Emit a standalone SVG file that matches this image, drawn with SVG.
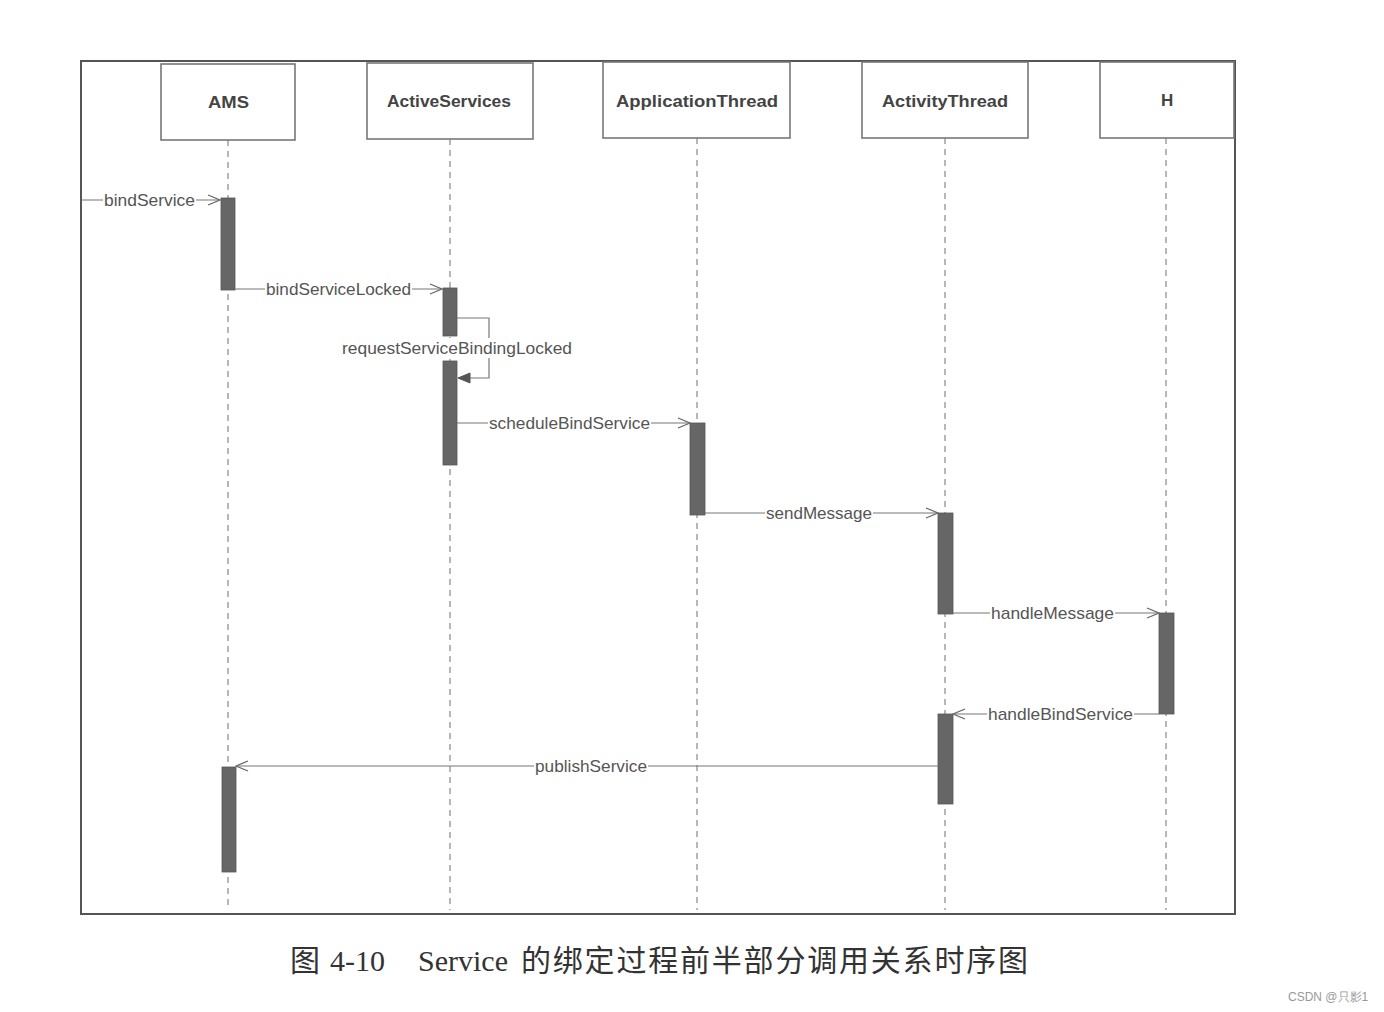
<svg xmlns="http://www.w3.org/2000/svg" width="1384" height="1012" viewBox="0 0 1384 1012">
<defs>
<marker id="open" markerWidth="14" markerHeight="12" refX="13" refY="6" orient="auto" markerUnits="userSpaceOnUse">
<path d="M1,1 L13,6 L1,11" fill="none" stroke="#666" stroke-width="1.3"/>
</marker>
<marker id="filled" markerWidth="14" markerHeight="12" refX="13" refY="6" orient="auto" markerUnits="userSpaceOnUse">
<path d="M1,1 L13,6 L1,11 Z" fill="#555" stroke="#555"/>
</marker>
</defs>
<style>
.frame{fill:none;stroke:#555;stroke-width:2}
.box{fill:#fff;stroke:#777;stroke-width:1.6}
.hdr{font-family:"Liberation Sans",Arial,sans-serif;font-weight:bold;font-size:17px;fill:#444}
.life{stroke:#888;stroke-width:1.2;stroke-dasharray:6,5}
.act{fill:#666;stroke:#555;stroke-width:0.8}
.msg{stroke:#777;stroke-width:1.2;fill:none}
.lbl{font-family:"Liberation Sans",Arial,sans-serif;font-size:17px;fill:#555}
.lblbg{fill:#fff}
.cap{font-family:"Liberation Serif","Noto Sans CJK SC",serif;font-size:30px;fill:#333}
.wm{font-family:"Liberation Sans",Arial,sans-serif;font-size:12px;fill:#999}
</style>
<rect width="1384" height="1012" fill="#fff"/>
<rect class="frame" x="81" y="61" width="1154" height="853"/>

<g id="lifelines">
<line class="life" x1="228" y1="140" x2="228" y2="910"/>
<line class="life" x1="450" y1="139" x2="450" y2="910"/>
<line class="life" x1="697" y1="138" x2="697" y2="910"/>
<line class="life" x1="945" y1="138" x2="945" y2="910"/>
<line class="life" x1="1166" y1="138" x2="1166" y2="910"/>
</g>

<g id="AMS">
<rect class="box" x="161" y="64" width="134" height="76"/>
<text class="hdr" x="208" y="108" textLength="41" lengthAdjust="spacingAndGlyphs">AMS</text>
</g>
<g id="ActiveServices">
<rect class="box" x="367" y="63" width="166" height="76"/>
<text class="hdr" x="387" y="107" textLength="124" lengthAdjust="spacingAndGlyphs">ActiveServices</text>
</g>
<g id="ApplicationThread">
<rect class="box" x="603" y="62" width="187" height="76"/>
<text class="hdr" x="616" y="107" textLength="162" lengthAdjust="spacingAndGlyphs">ApplicationThread</text>
</g>
<g id="ActivityThread">
<rect class="box" x="862" y="62" width="166" height="76"/>
<text class="hdr" x="882" y="107" textLength="126" lengthAdjust="spacingAndGlyphs">ActivityThread</text>
</g>
<g id="H">
<rect class="box" x="1100" y="62" width="134" height="76"/>
<text class="hdr" x="1161" y="106">H</text>
</g>

<g id="activations">
<rect class="act" x="221" y="198" width="14" height="92"/>
<rect class="act" x="222" y="767" width="14" height="105"/>
<rect class="act" x="443" y="288" width="14" height="48"/>
<rect class="act" x="443" y="361" width="14" height="104"/>
<rect class="act" x="690" y="423" width="15" height="92"/>
<rect class="act" x="938" y="513" width="15" height="101"/>
<rect class="act" x="938" y="714" width="15" height="90"/>
<rect class="act" x="1159" y="613" width="15" height="101"/>
</g>

<g id="connectors">
<line class="msg" x1="81" y1="200" x2="220" y2="200" marker-end="url(#open)"/>
<rect class="lblbg" x="103" y="190" width="93" height="20"/>
<text class="lbl" x="104" y="206" textLength="91" lengthAdjust="spacingAndGlyphs">bindService</text>

<line class="msg" x1="235" y1="289" x2="442" y2="289" marker-end="url(#open)"/>
<rect class="lblbg" x="265" y="279" width="147" height="20"/>
<text class="lbl" x="266" y="295" textLength="145" lengthAdjust="spacingAndGlyphs">bindServiceLocked</text>

<path class="msg" d="M457,318 H489 V378 H458" marker-end="url(#filled)"/>
<rect class="lblbg" x="340" y="338" width="234" height="20"/>
<text class="lbl" x="342" y="354" textLength="230" lengthAdjust="spacingAndGlyphs">requestServiceBindingLocked</text>

<line class="msg" x1="457" y1="423" x2="690" y2="423" marker-end="url(#open)"/>
<rect class="lblbg" x="488" y="413" width="163" height="20"/>
<text class="lbl" x="489" y="429" textLength="161" lengthAdjust="spacingAndGlyphs">scheduleBindService</text>

<line class="msg" x1="705" y1="513" x2="938" y2="513" marker-end="url(#open)"/>
<rect class="lblbg" x="765" y="503" width="108" height="20"/>
<text class="lbl" x="766" y="519" textLength="106" lengthAdjust="spacingAndGlyphs">sendMessage</text>

<line class="msg" x1="953" y1="613" x2="1159" y2="613" marker-end="url(#open)"/>
<rect class="lblbg" x="990" y="603" width="125" height="20"/>
<text class="lbl" x="991" y="619" textLength="123" lengthAdjust="spacingAndGlyphs">handleMessage</text>

<line class="msg" x1="1159" y1="714" x2="953" y2="714" marker-end="url(#open)"/>
<rect class="lblbg" x="987" y="704" width="147" height="20"/>
<text class="lbl" x="988" y="720" textLength="145" lengthAdjust="spacingAndGlyphs">handleBindService</text>

<line class="msg" x1="938" y1="766" x2="236" y2="766" marker-end="url(#open)"/>
<rect class="lblbg" x="534" y="756" width="114" height="20"/>
<text class="lbl" x="535" y="772" textLength="112" lengthAdjust="spacingAndGlyphs">publishService</text>
</g>

<g id="caption">
<text class="cap" x="290" y="971">图</text>
<text class="cap" x="330" y="971">4-10</text>
<text class="cap" x="418" y="971">Service</text>
<text class="cap" x="521" y="971" letter-spacing="1.8">的绑定过程前半部分调用关系时序图</text>
</g>
<text class="wm" x="1288" y="1001">CSDN @只影1</text>
</svg>
